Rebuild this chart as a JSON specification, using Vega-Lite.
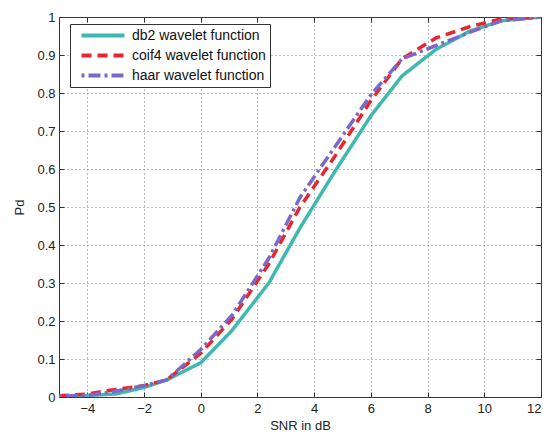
{
  "$schema": "https://vega.github.io/schema/vega-lite/v6.json",
  "width": 482,
  "height": 380,
  "autosize": {"type": "none"},
  "padding": {"left": 59, "top": 17, "right": 9, "bottom": 37},
  "background": "white",
  "config": {
    "font": "Liberation Sans",
    "view": {"stroke": "#333333", "strokeWidth": 1},
    "axis": {
      "labelFont": "Liberation Sans",
      "titleFont": "Liberation Sans",
      "labelFontSize": 13,
      "titleFontSize": 13,
      "labelColor": "#222222",
      "titleColor": "#222222",
      "titleFontWeight": "normal",
      "domain": false,
      "tickColor": "#333333",
      "tickSize": -5,
      "gridColor": "#555555",
      "gridDash": [1, 3],
      "gridWidth": 1,
      "gridOpacity": 0.8
    }
  },
  "data": {
    "values": [
      {"snr": -5, "pd": 0.002, "method": "db2 wavelet function"},
      {"snr": -4, "pd": 0.004, "method": "db2 wavelet function"},
      {"snr": -3, "pd": 0.008, "method": "db2 wavelet function"},
      {"snr": -2, "pd": 0.025, "method": "db2 wavelet function"},
      {"snr": -1.2, "pd": 0.045, "method": "db2 wavelet function"},
      {"snr": 0, "pd": 0.09, "method": "db2 wavelet function"},
      {"snr": 1.1, "pd": 0.175, "method": "db2 wavelet function"},
      {"snr": 2.4, "pd": 0.3, "method": "db2 wavelet function"},
      {"snr": 3.5, "pd": 0.445, "method": "db2 wavelet function"},
      {"snr": 4.7, "pd": 0.59, "method": "db2 wavelet function"},
      {"snr": 6, "pd": 0.74, "method": "db2 wavelet function"},
      {"snr": 7.1, "pd": 0.845, "method": "db2 wavelet function"},
      {"snr": 8.3, "pd": 0.915, "method": "db2 wavelet function"},
      {"snr": 9.5, "pd": 0.963, "method": "db2 wavelet function"},
      {"snr": 10.6, "pd": 0.99, "method": "db2 wavelet function"},
      {"snr": 12, "pd": 1.0, "method": "db2 wavelet function"},
      {"snr": -5, "pd": 0.003, "method": "coif4 wavelet function"},
      {"snr": -4, "pd": 0.008, "method": "coif4 wavelet function"},
      {"snr": -3, "pd": 0.02, "method": "coif4 wavelet function"},
      {"snr": -2, "pd": 0.03, "method": "coif4 wavelet function"},
      {"snr": -1.2, "pd": 0.045, "method": "coif4 wavelet function"},
      {"snr": 0, "pd": 0.115, "method": "coif4 wavelet function"},
      {"snr": 1.1, "pd": 0.205, "method": "coif4 wavelet function"},
      {"snr": 2.4, "pd": 0.35, "method": "coif4 wavelet function"},
      {"snr": 3.5, "pd": 0.5, "method": "coif4 wavelet function"},
      {"snr": 4.7, "pd": 0.63, "method": "coif4 wavelet function"},
      {"snr": 6, "pd": 0.78, "method": "coif4 wavelet function"},
      {"snr": 7.1, "pd": 0.89, "method": "coif4 wavelet function"},
      {"snr": 8.3, "pd": 0.945, "method": "coif4 wavelet function"},
      {"snr": 9.5, "pd": 0.975, "method": "coif4 wavelet function"},
      {"snr": 10.6, "pd": 0.995, "method": "coif4 wavelet function"},
      {"snr": 12, "pd": 1.0, "method": "coif4 wavelet function"},
      {"snr": -5, "pd": 0.002, "method": "haar wavelet function"},
      {"snr": -4, "pd": 0.004, "method": "haar wavelet function"},
      {"snr": -3, "pd": 0.015, "method": "haar wavelet function"},
      {"snr": -2, "pd": 0.03, "method": "haar wavelet function"},
      {"snr": -1.2, "pd": 0.045, "method": "haar wavelet function"},
      {"snr": 0, "pd": 0.125, "method": "haar wavelet function"},
      {"snr": 1.1, "pd": 0.215, "method": "haar wavelet function"},
      {"snr": 2.4, "pd": 0.365, "method": "haar wavelet function"},
      {"snr": 3.5, "pd": 0.525, "method": "haar wavelet function"},
      {"snr": 4.7, "pd": 0.655, "method": "haar wavelet function"},
      {"snr": 6, "pd": 0.795, "method": "haar wavelet function"},
      {"snr": 7.1, "pd": 0.89, "method": "haar wavelet function"},
      {"snr": 8.3, "pd": 0.925, "method": "haar wavelet function"},
      {"snr": 9.5, "pd": 0.96, "method": "haar wavelet function"},
      {"snr": 10.6, "pd": 0.99, "method": "haar wavelet function"},
      {"snr": 12, "pd": 1.0, "method": "haar wavelet function"}
    ]
  },
  "layer": [
    {
      "mark": {"type": "line", "opacity": 0},
      "encoding": {
        "x": {
          "field": "snr",
          "type": "quantitative",
          "scale": {"domain": [-5, 12], "nice": false, "zero": false},
          "axis": {"orient": "top", "values": [-4, -2, 0, 2, 4, 6, 8, 10, 12], "labels": false, "grid": false, "title": null}
        },
        "y": {
          "field": "pd",
          "type": "quantitative",
          "scale": {"domain": [0, 1], "nice": false},
          "axis": {"orient": "right", "values": [0, 0.1, 0.2, 0.3, 0.4, 0.5, 0.6, 0.7, 0.8, 0.9, 1], "labels": false, "grid": false, "title": null}
        }
      }
    },
    {
      "mark": {"type": "line", "strokeWidth": 3.5, "clip": true},
      "encoding": {
        "x": {
          "field": "snr",
          "type": "quantitative",
          "scale": {"domain": [-5, 12], "nice": false, "zero": false},
          "axis": {"orient": "bottom", "grid": true, "values": [-4, -2, 0, 2, 4, 6, 8, 10, 12], "title": "SNR in dB", "titlePadding": 4, "labelPadding": 10}
        },
        "y": {
          "field": "pd",
          "type": "quantitative",
          "scale": {"domain": [0, 1], "nice": false},
          "axis": {"orient": "left", "grid": true, "values": [0, 0.1, 0.2, 0.3, 0.4, 0.5, 0.6, 0.7, 0.8, 0.9, 1], "format": "~g", "title": "Pd", "titlePadding": 10, "labelPadding": 9}
        },
        "color": {
          "field": "method",
          "type": "nominal",
          "scale": {
            "domain": ["db2 wavelet function", "coif4 wavelet function", "haar wavelet function"],
            "range": ["#3fb8af", "#e8262e", "#7b68c8"]
          },
          "legend": {
            "title": null,
            "orient": "none",
            "legendX": 11,
            "legendY": 7,
            "symbolType": "stroke",
            "symbolSize": 1850,
            "symbolStrokeWidth": 4,
            "symbolOffset": 5,
            "clipHeight": 15,
            "labelFontSize": 14,
            "labelFont": "Liberation Sans",
            "labelColor": "#111111",
            "labelOffset": 5,
            "rowPadding": 5,
            "padding": 4,
            "strokeColor": "#333333",
            "fillColor": "white"
          }
        },
        "strokeDash": {
          "field": "method",
          "type": "nominal",
          "scale": {
            "domain": ["db2 wavelet function", "coif4 wavelet function", "haar wavelet function"],
            "range": [[1, 0], [10, 6], [3, 4, 12, 4]]
          },
          "legend": null
        }
      }
    }
  ],
  "resolve": {"axis": {"x": "independent", "y": "independent"}}
}
